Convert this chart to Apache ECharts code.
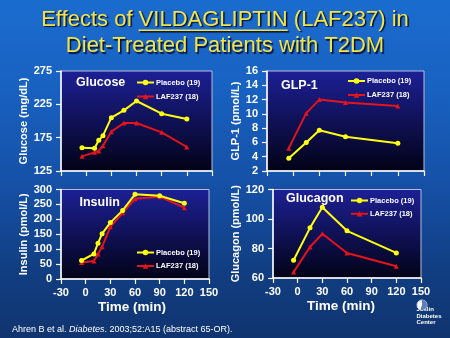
<!DOCTYPE html>
<html><head><meta charset="utf-8">
<script src="https://cdn.jsdelivr.net/npm/echarts@6/dist/echarts.min.js"></script>
<style>
html,body{margin:0;padding:0;background:#0f3068;}
#c{width:450px;height:338px;background:linear-gradient(to bottom,#1b6ccf 0%,#1862c2 25%,#1550a6 55%,#113e82 80%,#10346f 100%);}
</style>
</head><body><div id="c"></div>
<script>
// ---- data ----
const timesA = [-5, 10, 15, 20, 30, 45, 60, 90, 120];
const timesB = [-5, 15, 30, 60, 120];
const glucosePlacebo = [160, 159, 171, 178, 205, 216, 230, 211, 203];
const glucoseLAF = [147, 153, 155, 163, 184, 197, 197, 183, 161];
const glp1Placebo = [3.8, 6.0, 7.7, 6.8, 5.9];
const glp1LAF = [5.2, 10.1, 12.0, 11.6, 11.1];
const insulinPlacebo = [62, 84, 120, 152, 189, 230, 284, 279, 254];
const insulinLAF = [55, 60, 84, 108, 175, 222, 269, 276, 239];
const glucagonPlacebo = [72, 94, 108, 92, 77];
const glucagonLAF = [64, 81, 90, 77, 68];
const seriesNames = ['Placebo (19)', 'LAF237 (18)'];
const panelTitles = ['Glucose', 'GLP-1', 'Insulin', 'Glucagon'];
const yNames = ['Glucose (mg/dL)', 'GLP-1 (pmol/L)', 'Insulin (pmol/L)', 'Glucagon (pmol/L)'];
const titleLine1 = ['Effects of ', 'VILDAGLIPTIN', ' (LAF237) in'];
const titleLine2 = 'Diet-Treated Patients with T2DM';
const xName = 'Time (min)';

const FONT = 'Arial, "Liberation Sans", sans-serif';
const pair = (ts, vs) => ts.map((t, i) => [t, vs[i]]);

const plotBg = {type:'linear', x:0, y:0, x2:0, y2:1, colorStops:[{offset:0,color:'#1d2096'},{offset:1,color:'#020216'}]};
const grids = [
  {left:61, top:71, width:151, height:100},
  {left:267, top:71, width:157, height:100},
  {left:61, top:189.5, width:148, height:89.5},
  {left:273, top:189.5, width:148, height:88.5}
].map(g => Object.assign(g, {show:true, backgroundColor:plotBg, borderColor:'#b8bcd8', borderWidth:1}));

const labelStyle = {color:'#fff', fontWeight:'bold', fontSize:11, fontFamily:FONT};
function xAx(gi, showLab, padRight) {
  return {
    type:'value', gridIndex:gi, min:-30, max:150, interval:30,
    axisLine:{show:true, onZero:false, lineStyle:{color:'#fff', width:1.5}},
    axisTick:{show:true, inside:false, length:5, lineStyle:{color:'#fff', width:1.2}},
    splitLine:{show:false},
    axisLabel:Object.assign({show:showLab, margin:8}, labelStyle),
    name: showLab ? xName : '',
    nameLocation:'middle', nameGap:21,
    nameTextStyle:{color:'#fff', fontWeight:'bold', fontSize:13.5, fontFamily:FONT, padding:[0,padRight||0,0,0]}
  };
}
function yAx(gi, min, max, interval, name, gap) {
  return {
    type:'value', gridIndex:gi, min:min, max:max, interval:interval,
    axisLine:{show:true, onZero:false, lineStyle:{color:'#fff', width:1.5}},
    axisTick:{show:true, inside:false, length:5, lineStyle:{color:'#fff', width:1.2}},
    splitLine:{show:false},
    axisLabel:Object.assign({margin:9}, labelStyle),
    name:name, nameLocation:'middle', nameGap:gap,
    nameTextStyle:{color:'#fff', fontWeight:'bold', fontSize:11, fontFamily:FONT}
  };
}

function mkSeries(name, gi, data, placebo) {
  return {
    name:name, type:'line', xAxisIndex:gi, yAxisIndex:gi, data:data,
    symbol: placebo ? 'circle' : 'triangle', symbolSize: 5,
    z: placebo ? 3 : 2,
    lineStyle:{color: placebo ? '#ffff10' : '#e3141b', width:2},
    itemStyle:{color: placebo ? '#ffff10' : '#e3141b'},
    animation:false, silent:true
  };
}

const series = [
  mkSeries(seriesNames[1], 0, pair(timesA, glucoseLAF), false),
  mkSeries(seriesNames[0], 0, pair(timesA, glucosePlacebo), true),
  mkSeries(seriesNames[1], 1, pair(timesB, glp1LAF), false),
  mkSeries(seriesNames[0], 1, pair(timesB, glp1Placebo), true),
  mkSeries(seriesNames[1], 2, pair(timesA, insulinLAF), false),
  mkSeries(seriesNames[0], 2, pair(timesA, insulinPlacebo), true),
  mkSeries(seriesNames[1], 3, pair(timesB, glucagonLAF), false),
  mkSeries(seriesNames[0], 3, pair(timesB, glucagonPlacebo), true)
];

function mkLegend(left, top, gap) {
  return {
    data:seriesNames.slice(), orient:'vertical', left:left, top:top, itemGap:gap,
    itemWidth:17, itemHeight:7, selectedMode:false, padding:0,
    textStyle:{color:'#fff', fontWeight:'bold', fontSize:7.5, fontFamily:FONT, padding:[0,0,0,-3]}
  };
}

// measure title pieces for underline
const cv = document.createElement('canvas').getContext('2d');
const TFS = 22;
cv.font = TFS + 'px ' + FONT;
const wA = cv.measureText(titleLine1[0]).width;
const wB = cv.measureText(titleLine1[1]).width;
const wAll = cv.measureText(titleLine1.join('')).width;
const t1Left = 225 - wAll / 2;

const titleStyle = {fill:'#f3e446', font:TFS + 'px ' + FONT, textAlign:'center', textVerticalAlign:'middle',
  textShadowColor:'rgba(0,0,30,0.85)', textShadowOffsetX:1.5, textShadowOffsetY:1.5, textShadowBlur:1};

const panelTitlePos = [[76,82.7],[281,85.5],[79.5,202.3],[286,198.3]];

const gfx = [
  {type:'text', x:225, y:19.7, z:10, style:Object.assign({text:titleLine1.join('')}, titleStyle)},
  {type:'text', x:225, y:46.4, z:10, style:Object.assign({text:titleLine2}, titleStyle)},
  {type:'line', z:9, shape:{x1:t1Left + wA, y1:30.2, x2:t1Left + wA + wB, y2:30.2},
    style:{stroke:'#f3e446', lineWidth:1.5, shadowColor:'rgba(0,0,30,0.85)', shadowOffsetX:1.5, shadowOffsetY:1.5, shadowBlur:1}},
  {type:'text', x:12, y:329.5, z:10, style:{
    text:'Ahren B et al. {i|Diabetes}. 2003;52:A15 (abstract 65-OR).',
    rich:{i:{fontStyle:'italic', fill:'#fff', fontSize:9, fontFamily:FONT}},
    fill:'#fff', font:'9px ' + FONT, textVerticalAlign:'middle'}},
  // Joslin logo
  {type:'circle', z:10, shape:{cx:422, cy:305, r:5}, style:{fill:'#ffffff', stroke:'#c8d4ea', lineWidth:1}},
  {type:'sector', z:11, shape:{cx:422, cy:305, r:5, r0:0, startAngle:-Math.PI/2, endAngle:Math.PI*0.6}, style:{fill:'#5c7fb8'}},
  {type:'text', x:416.5, y:316, z:10, style:{text:'Joslin\nDiabetes\nCenter', fill:'#fff', font:'bold 6px ' + FONT, lineHeight:6.7, textVerticalAlign:'middle'}}
];
panelTitles.forEach((t, i) => {
  gfx.push({type:'text', x:panelTitlePos[i][0], y:panelTitlePos[i][1], z:10,
    style:{text:t, fill:'#fff', font:'bold 12.5px ' + FONT, textVerticalAlign:'middle'}});
});

const option = {
  animation:false,
  backgroundColor:'transparent',
  grid:grids,
  xAxis:[xAx(0,false), xAx(1,false), xAx(2,true,6), xAx(3,true,12)],
  yAxis:[
    yAx(0, 125, 275, 50, yNames[0], 30),
    yAx(1, 2, 16, 2, yNames[1], 25.5),
    yAx(2, 0, 300, 50, yNames[2], 29.5),
    yAx(3, 60, 120, 20, yNames[3], 31.5)
  ],
  legend:[mkLegend(136, 78.5, 6), mkLegend(347, 77, 6), mkLegend(136, 248.5, 5.5), mkLegend(350, 196.5, 5.3)],
  series:series,
  graphic:gfx
};
const chart = echarts.init(document.getElementById('c'), null, {renderer:'canvas'});
chart.setOption(option);
</script></body></html>
